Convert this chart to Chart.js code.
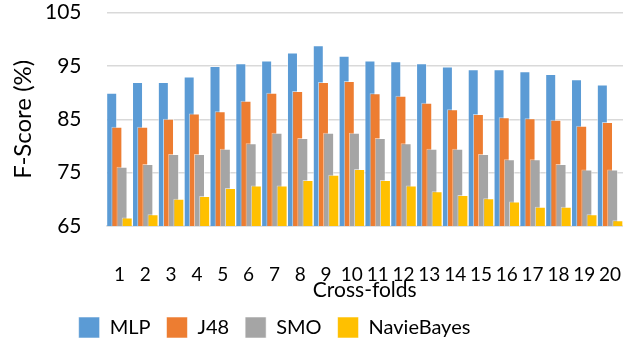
<!DOCTYPE html>
<html>
<head>
<meta charset="utf-8">
<script src="https://cdn.jsdelivr.net/npm/chart.js@4"></script>
<style>
  html, body { margin: 0; padding: 0; background: #fff; }
  #wrap { width: 623px; height: 343px; }
</style>
</head>
<body>
<div id="wrap"><canvas id="c"></canvas></div>
<script>
// 交差検証ごとのF値 (%)
const folds = ['1','2','3','4','5','6','7','8','9','10','11','12','13','14','15','16','17','18','19','20'];
const mlp = [90.0, 92.0, 92.0, 93.0, 95.0, 95.5, 96.0, 97.5, 98.9, 96.9, 96.0, 95.9, 95.5, 94.9, 94.4, 94.4, 94.0, 93.5, 92.5, 91.5];
const j48 = [83.6, 83.6, 85.1, 86.1, 86.5, 88.5, 90.0, 90.3, 92.0, 92.2, 89.9, 89.4, 88.1, 86.9, 86.0, 85.4, 85.2, 84.9, 83.8, 84.5];
const smo = [76.1, 76.6, 78.5, 78.5, 79.5, 80.5, 82.5, 81.5, 82.5, 82.5, 81.5, 80.5, 79.5, 79.5, 78.5, 77.5, 77.5, 76.6, 75.6, 75.6];
const naiveBayes = [66.6, 67.2, 70.1, 70.6, 72.1, 72.6, 72.6, 73.6, 74.6, 75.7, 73.6, 72.6, 71.5, 70.8, 70.2, 69.6, 68.6, 68.6, 67.2, 66.1];
const yTicks = [65, 75, 85, 95, 105];

const FONT = 'Lato, "Open Sans", sans-serif';
const TEXT = '#000';

// 重なった棒を左から順に描く（後の系列が上）、描画範囲でクリップ
const drawLeftToRight = {
    id: 'drawLeftToRight',
    afterLayout(chart) {
        // 凡例を少し左寄せ（元図に合わせる）
        if (chart.legend) chart.legend.right -= 82;
    },
    beforeDatasetsDraw(chart) {
        const metas = chart.getSortedVisibleDatasetMetas();
        const ctx = chart.ctx;
        const a = chart.chartArea;
        ctx.save();
        ctx.beginPath();
        ctx.rect(a.left, a.top, a.right - a.left, a.bottom - a.top);
        ctx.clip();
        metas.forEach(m => m.controller.draw());
        ctx.restore();
        return false;
    }
};

function series(label, data, color) {
    return {
        label: label,
        data: data,
        backgroundColor: color,
        borderColor: 'rgba(255,255,255,0.55)',
        borderWidth: 1,
        borderSkipped: 'bottom',
        categoryPercentage: 0.8,
        barPercentage: 2.13
    };
}

new Chart(document.getElementById('c'), {
    type: 'bar',
    data: {
        labels: folds,
        datasets: [
            series('MLP', mlp, '#5B9BD5'),
            series('J48', j48, '#ED7D31'),
            series('SMO', smo, '#A5A5A5'),
            series('NavieBayes', naiveBayes, '#FFC000')
        ]
    },
    options: {
        responsive: true,
        maintainAspectRatio: false,
        animation: false,
        layout: { padding: { left: 8, right: 0, top: 3, bottom: -5 } },
        plugins: {
            tooltip: { enabled: false },
            legend: {
                position: 'bottom',
                labels: {
                    font: { family: FONT, size: 20 },
                    color: TEXT,
                    boxWidth: 21,
                    boxHeight: 21,
                    padding: 16,
                    sort: (a, b) => a.datasetIndex - b.datasetIndex
                }
            }
        },
        scales: {
            x: {
                grid: { display: false, drawTicks: true, tickLength: 39, tickColor: 'rgba(0,0,0,0)' },
                border: { display: true, color: '#D9D9D9', width: 1.5 },
                ticks: {
                    autoSkip: false,
                    maxRotation: 0,
                    padding: 0,
                    color: TEXT,
                    font: { family: FONT, size: 19, lineHeight: 1.0 }
                },
                title: {
                    display: true,
                    text: 'Cross-folds',
                    color: TEXT,
                    font: { family: FONT, size: 21, lineHeight: 1.0 },
                    padding: { top: -4, bottom: 0 }
                }
            },
            y: {
                min: 65,
                max: 105,
                afterBuildTicks: axis => { axis.ticks = yTicks.map(v => ({ value: v })); },
                grid: { color: '#D9D9D9', lineWidth: 1.5, drawTicks: true, tickLength: 25, tickColor: 'rgba(0,0,0,0)' },
                border: { display: false },
                ticks: {
                    padding: 0,
                    color: TEXT,
                    font: { family: FONT, size: 21 }
                },
                title: {
                    display: true,
                    text: 'F-Score (%)',
                    color: TEXT,
                    font: { family: FONT, size: 24, lineHeight: 1.0 },
                    padding: { top: 3, bottom: 10 }
                }
            }
        }
    },
    plugins: [drawLeftToRight]
});
</script>
</body>
</html>
